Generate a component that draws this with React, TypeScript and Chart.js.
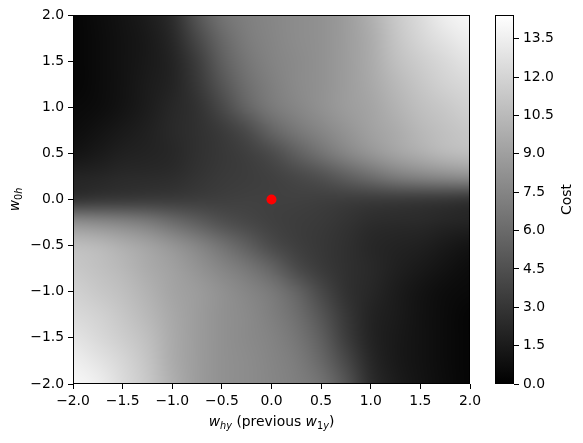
import React, { useEffect, useRef } from "react";
import { Chart, registerables } from "chart.js";

Chart.register(...registerables);

// ---------- data ----------
const X_VALUES = [-2, -1.75, -1.5, -1.25, -1, -0.75, -0.5, -0.25, 0, 0.25, 0.5, 0.75, 1, 1.25, 1.5, 1.75, 2];
const Y_VALUES = [2, 1.75, 1.5, 1.25, 1, 0.75, 0.5, 0.25, 0, -0.25, -0.5, -0.75, -1, -1.25, -1.5, -1.75, -2];

// cost read along each row (w_0h fixed), columns follow X_VALUES
const COST_Y_P200 = [0.3, 0.7, 1.1, 1.6, 2.5, 4.8, 6.5, 7.2, 7.6, 7.9, 8.2, 8.8, 9.9, 11.3, 12.4, 13.5, 14.0];
const COST_Y_P175 = [0.3, 0.6, 1.0, 1.4, 2.2, 4.1, 5.9, 7.0, 7.5, 7.9, 8.2, 8.8, 9.7, 11.1, 12.1, 12.9, 13.5];
const COST_Y_P150 = [0.3, 0.6, 1.0, 1.4, 2.0, 3.4, 5.4, 6.7, 7.4, 7.8, 8.2, 8.8, 9.6, 10.8, 11.6, 12.3, 12.9];
const COST_Y_P125 = [0.3, 0.6, 1.0, 1.5, 2.0, 3.1, 4.8, 6.3, 7.2, 7.8, 8.2, 8.8, 9.5, 10.4, 11.2, 11.9, 12.3];
const COST_Y_P100 = [0.5, 0.7, 1.1, 1.6, 2.2, 2.8, 4.1, 5.7, 6.9, 7.6, 8.2, 8.8, 9.3, 10.1, 10.8, 11.3, 11.8];
const COST_Y_P075 = [0.7, 1.0, 1.4, 1.8, 2.3, 2.7, 3.3, 4.2, 5.7, 6.8, 7.6, 8.4, 9.1, 9.7, 10.4, 10.9, 11.3];
const COST_Y_P050 = [1.1, 1.4, 1.8, 2.0, 2.2, 2.7, 3.1, 3.5, 4.2, 5.4, 6.5, 7.6, 8.5, 9.3, 9.9, 10.5, 10.8];
const COST_Y_P025 = [2.0, 2.1, 2.3, 2.4, 2.5, 2.9, 3.2, 3.4, 3.6, 4.0, 4.5, 5.4, 6.2, 7.1, 7.6, 7.9, 8.2];
const COST_Y_000 = [2.8, 3.0, 3.1, 3.2, 3.3, 3.4, 3.5, 3.6, 3.6, 3.6, 3.5, 3.4, 3.3, 3.2, 3.1, 3.0, 2.8];
const COST_Y_M025 = [8.2, 7.9, 7.6, 7.1, 6.2, 5.4, 4.5, 4.0, 3.6, 3.4, 3.2, 2.9, 2.5, 2.4, 2.3, 2.1, 2.0];
const COST_Y_M050 = [10.8, 10.5, 9.9, 9.3, 8.5, 7.6, 6.5, 5.4, 4.2, 3.5, 3.1, 2.7, 2.2, 2.0, 1.8, 1.4, 1.1];
const COST_Y_M075 = [11.3, 10.9, 10.4, 9.7, 9.1, 8.4, 7.6, 6.8, 5.7, 4.2, 3.3, 2.7, 2.3, 1.8, 1.4, 1.0, 0.7];
const COST_Y_M100 = [11.8, 11.3, 10.8, 10.1, 9.3, 8.8, 8.2, 7.6, 6.9, 5.7, 4.1, 2.8, 2.2, 1.6, 1.1, 0.7, 0.5];
const COST_Y_M125 = [12.3, 11.9, 11.2, 10.4, 9.5, 8.8, 8.2, 7.8, 7.2, 6.3, 4.8, 3.1, 2.0, 1.5, 1.0, 0.6, 0.3];
const COST_Y_M150 = [12.9, 12.3, 11.6, 10.8, 9.6, 8.8, 8.2, 7.8, 7.4, 6.7, 5.4, 3.4, 2.0, 1.4, 1.0, 0.6, 0.3];
const COST_Y_M175 = [13.5, 12.9, 12.1, 11.1, 9.7, 8.8, 8.2, 7.9, 7.5, 7.0, 5.9, 4.1, 2.2, 1.4, 1.0, 0.6, 0.3];
const COST_Y_M200 = [14.0, 13.5, 12.4, 11.3, 9.9, 8.8, 8.2, 7.9, 7.6, 7.2, 6.5, 4.8, 2.5, 1.6, 1.1, 0.7, 0.3];

const COST_ROWS = [
  COST_Y_P200, COST_Y_P175, COST_Y_P150, COST_Y_P125, COST_Y_P100, COST_Y_P075, COST_Y_P050, COST_Y_P025,
  COST_Y_000,
  COST_Y_M025, COST_Y_M050, COST_Y_M075, COST_Y_M100, COST_Y_M125, COST_Y_M150, COST_Y_M175, COST_Y_M200,
];

const CURRENT_POINT = [{ x: 0, y: 0 }];

const AXIS_TICKS = [-2, -1.5, -1, -0.5, 0, 0.5, 1, 1.5, 2];
const COLORBAR_TICKS = [0, 1.5, 3, 4.5, 6, 7.5, 9, 10.5, 12, 13.5];
const COST_MIN = 0;
const COST_MAX = 14.43;

// ---------- helpers ----------
const FONT = '"DejaVu Sans", sans-serif';
const FS = 13.9;
const fmt = (v: number) => (Math.round(v * 10) / 10).toFixed(1).replace("-", "\u2212");

type Seg = { t: string; it?: boolean; sub?: boolean };

function drawRich(ctx: CanvasRenderingContext2D, segs: Seg[], cx: number, baseline: number) {
  const subSize = FS * 0.7;
  const fontFor = (s: Seg) => `${s.it ? "italic " : ""}${s.sub ? subSize : FS}px ${FONT}`;
  let total = 0;
  const widths = segs.map((s) => {
    ctx.font = fontFor(s);
    const w = ctx.measureText(s.t).width;
    total += w;
    return w;
  });
  let x = cx - total / 2;
  ctx.textAlign = "left";
  ctx.textBaseline = "alphabetic";
  ctx.fillStyle = "#000";
  segs.forEach((s, i) => {
    ctx.font = fontFor(s);
    ctx.fillText(s.t, x, baseline + (s.sub ? 2.6 : 0));
    x += widths[i];
  });
}

function makeHeatImage(): HTMLCanvasElement {
  const rows = COST_ROWS.length;
  const cols = X_VALUES.length;
  const c = document.createElement("canvas");
  c.width = cols;
  c.height = rows;
  const g = c.getContext("2d")!;
  const img = g.createImageData(cols, rows);
  for (let r = 0; r < rows; r++) {
    for (let k = 0; k < cols; k++) {
      const v = COST_ROWS[r][k];
      const t = Math.max(0, Math.min(1, (v - COST_MIN) / (COST_MAX - COST_MIN)));
      const gray = Math.round(t * 255);
      const idx = (r * cols + k) * 4;
      img.data[idx] = gray;
      img.data[idx + 1] = gray;
      img.data[idx + 2] = gray;
      img.data[idx + 3] = 255;
    }
  }
  g.putImageData(img, 0, 0);
  return c;
}

const heatmapPlugin = {
  id: "heatmap",
  beforeDatasetsDraw(chart: any) {
    const { ctx, chartArea, scales } = chart;
    const xs = scales.x;
    const ys = scales.y;
    const img = makeHeatImage();
    const dx = (X_VALUES[1] - X_VALUES[0]) / 2;
    const dy = (Y_VALUES[0] - Y_VALUES[1]) / 2;
    const x0 = xs.getPixelForValue(X_VALUES[0] - dx);
    const x1 = xs.getPixelForValue(X_VALUES[X_VALUES.length - 1] + dx);
    const y0 = ys.getPixelForValue(Y_VALUES[0] + dy);
    const y1 = ys.getPixelForValue(Y_VALUES[Y_VALUES.length - 1] - dy);
    ctx.save();
    ctx.beginPath();
    ctx.rect(chartArea.left, chartArea.top, chartArea.right - chartArea.left, chartArea.bottom - chartArea.top);
    ctx.clip();
    ctx.imageSmoothingEnabled = true;
    ctx.imageSmoothingQuality = "high";
    ctx.drawImage(img, x0, y0, x1 - x0, y1 - y0);
    ctx.restore();
  },
  afterDraw(chart: any) {
    const { ctx, chartArea } = chart;
    ctx.save();
    ctx.strokeStyle = "#000";
    ctx.lineWidth = 1;
    ctx.strokeRect(chartArea.left + 0.5, chartArea.top + 0.5, chartArea.right - chartArea.left - 1, chartArea.bottom - chartArea.top - 1);
    // x title
    drawRich(
      ctx,
      [
        { t: "w", it: true },
        { t: "hy", it: true, sub: true },
        { t: " (previous " },
        { t: "w", it: true },
        { t: "1", sub: true },
        { t: "y", it: true, sub: true },
        { t: ")" },
      ],
      (chartArea.left + chartArea.right) / 2,
      426
    );
    // y title
    ctx.translate(19, (chartArea.top + chartArea.bottom) / 2);
    ctx.rotate(-Math.PI / 2);
    drawRich(
      ctx,
      [
        { t: "w", it: true },
        { t: "0", sub: true },
        { t: "h", it: true, sub: true },
      ],
      0,
      0
    );
    ctx.restore();
  },
};

const colorbarPlugin = {
  id: "colorbar",
  beforeDatasetsDraw(chart: any) {
    const { ctx, chartArea, scales } = chart;
    const ys = scales.y;
    const yBottom = ys.getPixelForValue(COST_MIN);
    const yTop = ys.getPixelForValue(COST_MAX);
    const grad = ctx.createLinearGradient(0, yBottom, 0, yTop);
    grad.addColorStop(0, "#000");
    grad.addColorStop(1, "#fff");
    ctx.save();
    ctx.fillStyle = grad;
    ctx.fillRect(chartArea.left, yTop, chartArea.right - chartArea.left, yBottom - yTop);
    ctx.restore();
  },
  afterDraw(chart: any) {
    const { ctx, chartArea } = chart;
    ctx.save();
    ctx.strokeStyle = "#000";
    ctx.lineWidth = 1;
    ctx.strokeRect(chartArea.left + 0.5, chartArea.top + 0.5, chartArea.right - chartArea.left - 1, chartArea.bottom - chartArea.top - 1);
    ctx.translate(570.5, (chartArea.top + chartArea.bottom) / 2);
    ctx.rotate(-Math.PI / 2);
    ctx.font = `${FS}px ${FONT}`;
    ctx.fillStyle = "#000";
    ctx.textAlign = "center";
    ctx.textBaseline = "alphabetic";
    ctx.fillText("Cost", 0, 0);
    ctx.restore();
  },
};

const tickFont = { family: FONT, size: FS };

function axisOpts(extra: any) {
  return {
    type: "linear",
    min: AXIS_TICKS[0],
    max: AXIS_TICKS[AXIS_TICKS.length - 1],
    afterBuildTicks: (s: any) => {
      s.ticks = AXIS_TICKS.map((v) => ({ value: v }));
    },
    ticks: { color: "#000", font: tickFont, padding: 4, maxRotation: 0, autoSkip: false, callback: (v: any) => fmt(Number(v)) },
    grid: { drawOnChartArea: false, drawTicks: true, tickLength: 5, tickColor: "#000", tickWidth: 1 },
    border: { display: false },
    ...extra,
  };
}

export default function App() {
  const mainRef = useRef<HTMLCanvasElement>(null);
  const cbRef = useRef<HTMLCanvasElement>(null);

  useEffect(() => {
    const main = new Chart(mainRef.current!, {
      type: "scatter",
      data: {
        datasets: [
          {
            data: CURRENT_POINT,
            backgroundColor: "#ff0000",
            borderColor: "#ff0000",
            borderWidth: 0,
            pointRadius: 5,
          },
        ],
      },
      options: {
        responsive: false,
        animation: false,
        layout: { padding: { left: 0, right: 113, top: 15, bottom: 0 } },
        plugins: { legend: { display: false }, tooltip: { enabled: false } },
        scales: {
          x: axisOpts({ afterFit: (s: any) => { s.height = 59; } }),
          y: axisOpts({ afterFit: (s: any) => { s.width = 73; } }),
        },
      } as any,
      plugins: [heatmapPlugin],
    });

    const cb = new Chart(cbRef.current!, {
      type: "scatter",
      data: { datasets: [] },
      options: {
        responsive: false,
        animation: false,
        layout: { padding: { left: 495, right: 0, top: 15, bottom: 59 } },
        plugins: { legend: { display: false }, tooltip: { enabled: false } },
        scales: {
          x: { type: "linear", display: false, min: 0, max: 1 },
          y: {
            type: "linear",
            position: "right",
            min: COST_MIN,
            max: COST_MAX,
            afterBuildTicks: (s: any) => {
              s.ticks = COLORBAR_TICKS.map((v) => ({ value: v }));
            },
            afterFit: (s: any) => { s.width = 69; },
            ticks: { color: "#000", font: tickFont, padding: 4, autoSkip: false, callback: (v: any) => fmt(Number(v)) },
            grid: { drawOnChartArea: false, drawTicks: true, tickLength: 5, tickColor: "#000", tickWidth: 1 },
            border: { display: false },
          },
        },
      } as any,
      plugins: [colorbarPlugin],
    });

    return () => {
      main.destroy();
      cb.destroy();
    };
  }, []);

  return (
    <div style={{ position: "absolute", left: 0, top: 0, width: 583, height: 443, background: "#fff" }}>
      <canvas ref={mainRef} width={583} height={443} style={{ position: "absolute", left: 0, top: 0 }} />
      <canvas ref={cbRef} width={583} height={443} style={{ position: "absolute", left: 0, top: 0 }} />
    </div>
  );
}
